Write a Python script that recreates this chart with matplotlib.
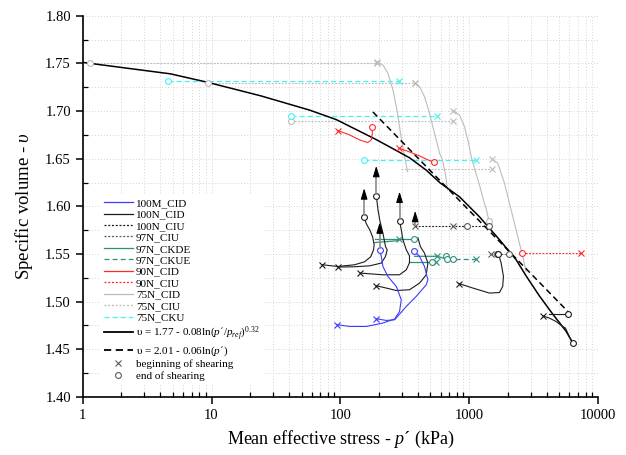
import matplotlib
matplotlib.use("Agg")
import matplotlib.pyplot as plt
from matplotlib.lines import Line2D
from matplotlib.ticker import MultipleLocator, LogLocator, FixedLocator, NullFormatter, FixedFormatter

plt.rcParams['font.family'] = ['Liberation Serif', 'DejaVu Serif']
plt.rcParams['mathtext.fontset'] = 'custom'
plt.rcParams['mathtext.rm'] = 'Liberation Serif'
plt.rcParams['mathtext.it'] = 'Liberation Serif:italic'

# ---- data (p' in kPa, specific volume) ----
# normal compression curve  v = 1.77 - 0.08ln(p'/pref)^0.32
ncl_p = [1, 4.8, 9.4, 24, 57.6, 93, 190, 344, 464, 590, 841, 1202, 1718, 2314, 2767, 3509, 4449, 5650, 6350]
ncl_v = [1.751, 1.739, 1.730, 1.716, 1.701, 1.691, 1.670, 1.651, 1.638, 1.625, 1.610, 1.589, 1.565, 1.544,
         1.527, 1.506, 1.487, 1.469, 1.457]
# v = 2.01 - 0.06ln(p')
csl_p = [179, 5900]
csl_v = [1.699, 1.489]

# 100M_CID
m100_a_p = [94.8, 118, 159, 214, 264, 288, 297, 272, 234, 214, 208, 202]
m100_a_v = [1.4758, 1.4740, 1.4740, 1.4776, 1.4818, 1.4897, 1.5020, 1.5159, 1.5264, 1.5369, 1.5474, 1.5544]
m100_b_p = [190, 227, 264, 325, 388, 464, 478, 450, 412, 388, 372]
m100_b_v = [1.4821, 1.4803, 1.4810, 1.4950, 1.5055, 1.5177, 1.5230, 1.5369, 1.5474, 1.5509, 1.5533]

# 100N_CID
n100_a_p = [72.5, 95.5, 129, 154, 172, 181, 183, 178, 169, 159, 152]
n100_a_v = [1.5387, 1.5369, 1.5387, 1.5418, 1.5471, 1.5544, 1.5596, 1.5680, 1.5754, 1.5817, 1.5893]
n100_b_p = [95.8, 129, 169, 208, 224, 231, 224, 214, 202, 196, 190]
n100_b_v = [1.5363, 1.5366, 1.5376, 1.5405, 1.5474, 1.5544, 1.5579, 1.5719, 1.5858, 1.5963, 1.6113]
n100_c_p = [143, 213, 288, 325, 344, 344, 325, 306, 297, 288]
n100_c_v = [1.5300, 1.5282, 1.5282, 1.5334, 1.5408, 1.5481, 1.5544, 1.5649, 1.5754, 1.5848]
n100_d_p = [190, 227, 272, 344, 412, 464, 478, 450, 419, 400]
n100_d_v = [1.5167, 1.5143, 1.5117, 1.5125, 1.5195, 1.5282, 1.5405, 1.5509, 1.5575, 1.5670]
n100_e_p = [841, 1067, 1437, 1718, 1820, 1845, 1770, 1696, 1667]
n100_e_v = [1.5188, 1.5143, 1.5090, 1.5096, 1.5159, 1.5264, 1.5405, 1.5492, 1.5502]
n100_f_p = [3722, 4190, 4721, 5318, 5585, 5995, 6353]
n100_f_v = [1.4852, 1.4828, 1.4792, 1.4740, 1.4723, 1.4632, 1.4566]
n100_g_p = [4190, 5810]
n100_g_v = [1.4870, 1.4870]

# 100N_CIU
ciu100_p = [377, 1437]
ciu100_v = [1.5796, 1.5796]
ciu100_x = [377, 746]
ciu100_o = [958, 1437]

# 97N_CIU
ciu97_p = [1482, 2053]
ciu97_v = [1.5500, 1.5500]
ciu97_x = [1482]
ciu97_o = [1637, 2053]

# 97N_CKDE
ckde_a_p = [185, 372]
ckde_a_v = [1.5656, 1.5656]
ckde_b_p = [185, 283]
ckde_b_v = [1.5620, 1.5640]
ckde_c_p = [377, 565, 663]
ckde_c_v = [1.5476, 1.5476, 1.5447]
ckde_d_p = [344, 517, 555]
ckde_d_v = [1.5411, 1.5411, 1.5411]
# 97N_CKUE
ckue_p = [670, 746, 1120]
ckue_v = [1.5447, 1.5447, 1.5447]

# 90N_CID
n90_a_p = [95.8, 118, 141, 163, 174, 177, 177]
n90_a_v = [1.6795, 1.6749, 1.6697, 1.6669, 1.6697, 1.6767, 1.6830]
n90_b_p = [285, 344, 412, 492, 532]
n90_b_v = [1.6610, 1.6571, 1.6529, 1.6480, 1.6463]
# 90N_CIU
ciu90_p = [2575, 7380]
ciu90_v = [1.5509, 1.5509]

# 75N_CID
n75_a_p = [192, 214, 234, 256, 275, 293, 315, 333]
n75_a_v = [1.7518, 1.7483, 1.7396, 1.7221, 1.7012, 1.6767, 1.6522, 1.6362]
n75_b_p = [377, 412, 450, 492, 538, 589, 621, 655, 679]
n75_b_v = [1.7298, 1.7256, 1.7151, 1.6977, 1.6767, 1.6558, 1.6487, 1.6330, 1.6173]
n75_c_p = [755, 841, 919, 988, 1042, 1120, 1202, 1291, 1362, 1419]
n75_c_v = [1.7004, 1.6959, 1.6837, 1.6666, 1.6508, 1.6362, 1.6225, 1.6068, 1.5963, 1.5851]
n75_d_p = [1507, 1667, 1879, 2116, 2382, 2604, 2767]
n75_d_v = [1.6495, 1.6453, 1.6243, 1.5963, 1.5683, 1.5474, 1.5317]

# 75N_CIU  (left end, right end, level)
ciu75_lo = [1.14, 9.31, 41.7, 297]
ciu75_hi = [192, 377, 755, 1507]
ciu75_v = [1.750, 1.7298, 1.6899, 1.6393]
# 75N_CKU
cku75_lo = [4.61, 41.7, 152]
cku75_hi = [283, 561, 1120]
cku75_v = [1.7319, 1.6952, 1.649]

# arrows at end of shearing (p, base, tip)
arr_p = [153, 190, 288, 381, 202]
arr_base = [1.5893, 1.6113, 1.5848, 1.5788, 1.5544]
arr_tip = [1.619, 1.6425, 1.6155, 1.5953, 1.5832]

BLUE = '#3b3bff'
BLACK = '#1c1c1c'
TEAL = '#2f8f7a'
RED = '#ff2b2b'
LGRAY = '#bcbcbc'
CYAN = '#44f2f2'
DGRAY = '#5a5a5a'
DOT = (0, (1.6, 1.4))
DASH = (0, (4, 2.5))

fig = plt.figure(figsize=(6.26, 4.55), dpi=100)
ax = fig.add_axes([0.1321, 0.1275, 0.8232, 0.838])


def path(p, v, color, ls='-', lw=0.8, start=True, end=True):
    ax.plot(p, v, color=color, ls=ls, lw=lw, zorder=3)
    if start:
        ax.plot(p[0], v[0], ls='none', marker='x', ms=4.5, mew=0.8, color=color, zorder=4)
    if end:
        ax.plot(p[-1], v[-1], ls='none', marker='o', ms=4.2, mew=0.8, mfc='white', color=color, zorder=4)


def marks(px, po, v, color):
    ax.plot(px, [v] * len(px), ls='none', marker='x', ms=4.5, mew=0.8, color=color, zorder=4)
    ax.plot(po, [v] * len(po), ls='none', marker='o', ms=4.2, mew=0.8, mfc='white', color=color, zorder=4)


# 75N tests
for lo, hi, v in zip(ciu75_lo, ciu75_hi, ciu75_v):
    ax.plot([lo, hi], [v, v], color=LGRAY, ls=DOT, lw=0.8, zorder=2)
    marks([hi], [lo] if lo < 200 else [], v, LGRAY)
for lo, hi, v in zip(cku75_lo, cku75_hi, cku75_v):
    ax.plot([lo, hi], [v, v], color=CYAN, ls=DASH, lw=0.9, zorder=2)
    marks([hi], [lo], v, CYAN)
path(n75_a_p, n75_a_v, LGRAY, end=False)
path(n75_b_p, n75_b_v, LGRAY, end=False)
path(n75_c_p, n75_c_v, LGRAY)
path(n75_d_p, n75_d_v, LGRAY, end=False)

# model lines
ax.plot(ncl_p, ncl_v, color='k', lw=1.1, zorder=3)
ax.plot(csl_p, csl_v, color='k', lw=1.1, ls=DASH, zorder=3)

# 90N tests
path(n90_a_p, n90_a_v, RED)
path(n90_b_p, n90_b_v, RED)
ax.plot(ciu90_p, ciu90_v, color=RED, ls=DOT, lw=0.8, zorder=3)
marks([ciu90_p[1]], [ciu90_p[0]], ciu90_v[0], RED)

# 97N tests
for cp, cv in [(ckde_a_p, ckde_a_v), (ckde_b_p, ckde_b_v), (ckde_c_p, ckde_c_v), (ckde_d_p, ckde_d_v)]:
    ax.plot(cp, cv, color=TEAL, lw=0.9, zorder=3)
marks([ckde_b_p[-1]], [ckde_a_p[-1]], ckde_a_v[-1], TEAL)
marks([ckde_c_p[1]], [ckde_c_p[2]], ckde_c_v[0], TEAL)
marks([ckde_d_p[2]], [ckde_d_p[1]], ckde_d_v[0], TEAL)
ax.plot(ckue_p, ckue_v, color=TEAL, ls=DASH, lw=0.9, zorder=3)
marks([ckue_p[-1]], ckue_p[:2], ckue_v[0], TEAL)
ax.plot(ciu97_p, ciu97_v, color=DGRAY, ls=DOT, lw=0.8, zorder=3)
marks(ciu97_x, ciu97_o, ciu97_v[0], DGRAY)

# 100N / 100M tests
path(n100_a_p, n100_a_v, BLACK)
path(n100_b_p, n100_b_v, BLACK)
path(n100_c_p, n100_c_v, BLACK)
path(n100_d_p, n100_d_v, BLACK, end=False)
path(n100_e_p, n100_e_v, BLACK)
path(n100_f_p, n100_f_v, BLACK)
path(n100_g_p, n100_g_v, BLACK, start=False)
ax.plot(ciu100_p, ciu100_v, color=BLACK, ls=DOT, lw=0.8, zorder=3)
marks(ciu100_x, ciu100_o, ciu100_v[0], DGRAY)
path(m100_a_p, m100_a_v, BLUE)
path(m100_b_p, m100_b_v, BLUE)

for p, b, t in zip(arr_p, arr_base, arr_tip):
    ax.plot([p, p], [b + 0.002, t - 0.005], color='#8a8a8a', lw=1.2, zorder=4)
    ax.annotate('', xy=(p, t), xytext=(p, t - 0.008),
                arrowprops=dict(arrowstyle='-|>,head_length=0.65,head_width=0.2', color='k',
                                lw=0.8, shrinkA=0, shrinkB=0), zorder=5)

# axes
ax.set_xscale('log')
ax.set_xlim(1, 10000)
ax.set_ylim(1.40, 1.80)
ax.xaxis.set_major_locator(FixedLocator([1, 10, 100, 1000, 10000]))
ax.xaxis.set_major_formatter(FixedFormatter(['1', '10', '100', '1000', '10000']))
ax.xaxis.set_minor_locator(LogLocator(base=10, subs=range(2, 10)))
ax.xaxis.set_minor_formatter(NullFormatter())
ax.yaxis.set_major_locator(MultipleLocator(0.05))
ax.yaxis.set_minor_locator(MultipleLocator(0.025))
ax.yaxis.set_major_formatter(plt.FormatStrFormatter('%.2f'))
ax.tick_params(which='major', direction='out', length=5, width=1.1, labelsize=10.5)
ax.tick_params(which='minor', direction='in', length=3.5, width=0.9)
ax.spines['top'].set_visible(False)
ax.spines['right'].set_visible(False)
ax.spines['left'].set_linewidth(1.2)
ax.spines['bottom'].set_linewidth(1.2)
ax.grid(which='both', color='#d4d4d4', ls=(0, (1, 2)), lw=0.7)
ax.set_axisbelow(True)

ax.set_xlabel('Mean effective stress - $p$´ (kPa)', fontsize=13, labelpad=5)
ax.set_ylabel(r'Specific volume - $\upsilon$', fontsize=13.5, labelpad=7)

handles = [
    Line2D([], [], color=BLUE, lw=0.9, label='100M_CID'),
    Line2D([], [], color=BLACK, lw=0.9, label='100N_CID'),
    Line2D([], [], color=BLACK, lw=0.9, ls=DOT, label='100N_CIU'),
    Line2D([], [], color=DGRAY, lw=0.9, ls=DOT, label='97N_CIU'),
    Line2D([], [], color=TEAL, lw=0.9, label='97N_CKDE'),
    Line2D([], [], color=TEAL, lw=0.9, ls=DASH, label='97N_CKUE'),
    Line2D([], [], color=RED, lw=0.9, label='90N_CID'),
    Line2D([], [], color=RED, lw=0.9, ls=DOT, label='90N_CIU'),
    Line2D([], [], color=LGRAY, lw=0.9, label='75N_CID'),
    Line2D([], [], color=LGRAY, lw=0.9, ls=DOT, label='75N_CIU'),
    Line2D([], [], color=CYAN, lw=0.9, ls=DASH, label='75N_CKU'),
    Line2D([], [], color='k', lw=1.3, label='υ = 1.77 - 0.08ln($p$´/$p_{ref}$)$^{0.32}$'),
    Line2D([], [], color='k', lw=1.3, ls=DASH, label='υ = 2.01 - 0.06ln($p$´)'),
    Line2D([], [], color=DGRAY, ls='none', marker='x', ms=4.5, mew=0.8, label='beginning of shearing'),
    Line2D([], [], color=DGRAY, ls='none', marker='o', ms=4.2, mew=0.8, mfc='none', label='end of shearing'),
]
leg = ax.legend(handles=handles, loc='upper left', bbox_to_anchor=(0.032, 0.533), fontsize=8,
                frameon=True, facecolor='white', edgecolor='none', framealpha=1, fancybox=False,
                handlelength=2.6, handletextpad=0.3, labelspacing=0.15, borderpad=0.4,
                borderaxespad=0)
leg.set_zorder(10)

fig.savefig('out.png', dpi=100)
